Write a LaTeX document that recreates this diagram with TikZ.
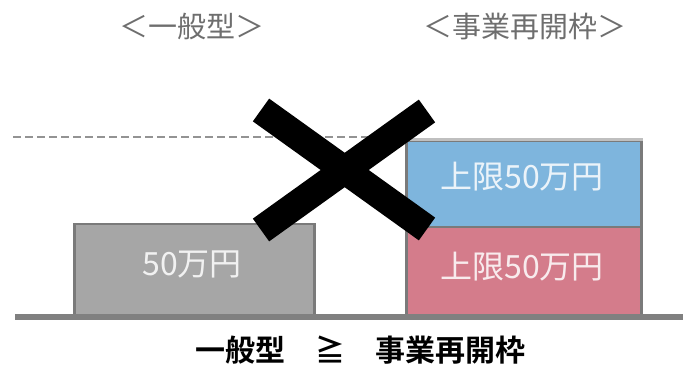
\documentclass[tikz,border=0pt]{standalone}
\usepackage{fontspec}
\setmainfont{Noto Sans CJK JP}[BoldFont={Noto Sans CJK JP Bold}]
\begin{document}
\begin{tikzpicture}[x=1pt,y=-1pt,
  title/.style={text=titlegray,font=\fontsize{29}{29}\selectfont,inner sep=0pt},
  bartext/.style={text=white,text opacity=0.85,font=\fontsize{32}{32}\selectfont,inner sep=0pt},
  bar/.style={draw=bordergray,line width=2.5pt,inner sep=0pt,anchor=north west}]
\definecolor{titlegray}{HTML}{6E6E6E}
\definecolor{bordergray}{HTML}{7A7A7A}
\definecolor{boxgray}{HTML}{A6A6A6}
\definecolor{boxblue}{HTML}{7EB5DD}
\definecolor{boxpink}{HTML}{D47C8B}
\definecolor{groundgray}{HTML}{808080}
\useasboundingbox (0,0) rectangle (683,366);
% titles
\node[title] (t1) at (191.5,27) {＜一般型＞};
\node[title] (t2) at (524.5,27) {＜事業再開枠＞};
% dashed reference line
\coordinate (d0) at (13,137);
\coordinate (d1) at (405,137);
\draw[groundgray!85,line width=1.5pt,dash pattern=on 8pt off 4pt] (d0) -- (d1);
% boxes
\node[bar,fill=boxgray,minimum width=240pt,minimum height=92pt] (g) at (73,223) {};
\node[bar,fill=boxblue,minimum width=235pt,minimum height=86pt] (b) at (405,140) {};
\node[bar,fill=boxpink,minimum width=235pt,minimum height=89pt] (p) at (405,226) {};
\draw[gray!50,line width=3pt] (b.north west) -- (b.north east);
% box texts
\node[bartext] (gt) at (192,264) {50万円};
\node[bartext] (bt) at (522,177) {上限50万円};
\node[bartext] (pt) at (522,267) {上限50万円};
% ground
\coordinate (l0) at (15,316.5);
\coordinate (l1) at (683,316.5);
\draw[groundgray,line width=6pt] (l0) -- (l1);
% cross
\draw[black,line width=28pt] (261,110) -- (427,229);
\draw[black,line width=28pt] (427,111) -- (261,230);
% bottom text
\node[inner sep=0pt,font=\fontsize{30}{30}\selectfont\bfseries] (bottom) at (360,350) {一般型　≧　事業再開枠};
\end{tikzpicture}
\end{document}
